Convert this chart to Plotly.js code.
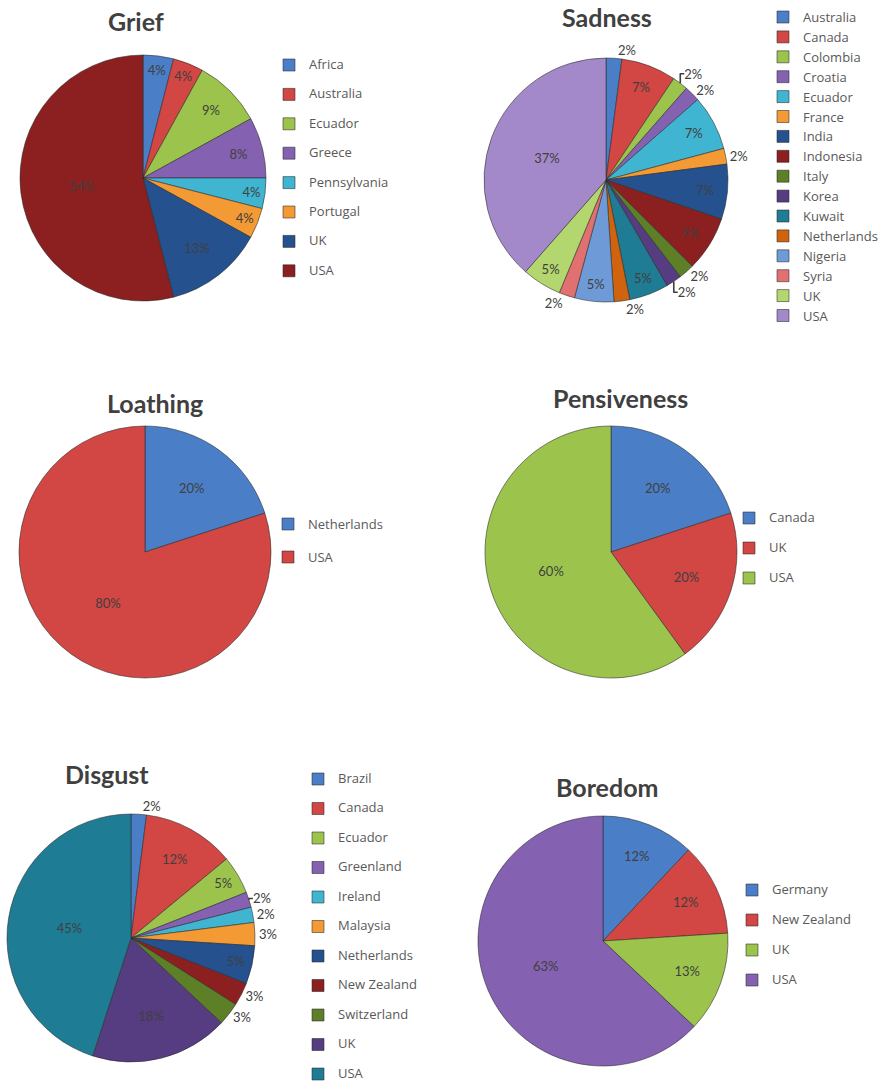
<!DOCTYPE html>
<html>
<head>
<meta charset="utf-8">
<script src="https://cdn.plot.ly/plotly-3.0.1.min.js"></script>
<style>html,body{margin:0;padding:0;background:#ffffff;}#chart{width:889px;height:1085px;}</style>
</head>
<body>
<div id="chart"></div>
<script>
// ---------------- DATA ----------------
const griefCountries = ['Africa','Australia','Ecuador','Greece','Pennsylvania','Portugal','UK','USA'];
const griefValues = [4,4,9,8,4,4,13,54];

const sadnessCountries = ['Australia','Canada','Colombia','Croatia','Ecuador','France','India','Indonesia','Italy','Korea','Kuwait','Netherlands','Nigeria','Syria','UK','USA'];
const sadnessValues = [2,7,2,2,7,2,7,7,2,2,5,2,5,2,5,37];

const loathingCountries = ['Netherlands','USA'];
const loathingValues = [20,80];

const pensivenessCountries = ['Canada','UK','USA'];
const pensivenessValues = [20,20,60];

const disgustCountries = ['Brazil','Canada','Ecuador','Greenland','Ireland','Malaysia','Netherlands','New Zealand','Switzerland','UK','USA'];
const disgustValues = [2,12,5,2,2,3,5,3,3,18,45];

const boredomCountries = ['Germany','New Zealand','UK','USA'];
const boredomValues = [12,12,13,63];

const chartTitles = ['Grief','Sadness','Loathing','Pensiveness','Disgust','Boredom'];

// ---------------- STYLE ----------------
const W = 889, H = 1085;
const palette = ['#4a7ec6','#d24643','#9cc44c','#8561b1','#40b5d2','#f39a34',
                 '#25518f','#8c1f1f','#5d7f27','#563c80','#1f7c95','#cf630e',
                 '#6e9bd8','#e07170','#b3d66f','#a489ca'];

const sadnessPos = ['outside','inside','outside','outside','inside','outside','inside','inside','outside','outside','inside','outside','inside','outside','inside','inside'];
const disgustPos = ['outside','inside','inside','outside','outside','outside','inside','outside','outside','inside','inside'];

// pie geometry in pixels: centre x, centre y, radius
const geo = [
  [143,178,123],
  [606,180,122],
  [145,552,126],
  [611,552,126],
  [131,938,124],
  [603,941,125]
];
function domainOf(g){
  return {x:[(g[0]-g[2])/W,(g[0]+g[2])/W], y:[1-(g[1]+g[2])/H, 1-(g[1]-g[2])/H]};
}

// legend entries: visible text at 13px, a blank second line to space the entries;
// the style string differs per chart so that each legend keeps its own entries
function twoLine(names, k){
  return names.map(n => '<span style="font-size:13px' + ';'.repeat(k) + '">' + n + '</span><br> ');
}

function makePie(labels, values, idx, legendId, pos){
  return {
    type:'pie', labels:labels, values:values, sort:false, direction:'clockwise', rotation:0,
    domain: domainOf(geo[idx]),
    marker:{colors:palette.slice(0,values.length), line:{color:'rgba(40,40,40,0.55)', width:1}},
    texttemplate:'%{value}%', textposition: pos || 'inside', insidetextorientation:'horizontal',
    insidetextfont:{family:'Lato, sans-serif', size:13, color:'#404040'},
    outsidetextfont:{family:'Lato, sans-serif', size:13, color:'#404040'},
    hoverinfo:'label+value', legend:legendId, showlegend:true
  };
}

const traces = [
  makePie(twoLine(griefCountries,1), griefValues, 0, 'legend'),
  makePie(sadnessCountries, sadnessValues, 1, 'legend2', sadnessPos),
  makePie(twoLine(loathingCountries,2), loathingValues, 2, 'legend3'),
  makePie(twoLine(pensivenessCountries,3), pensivenessValues, 3, 'legend4'),
  makePie(twoLine(disgustCountries,4), disgustValues, 4, 'legend5', disgustPos),
  makePie(twoLine(boredomCountries,5), boredomValues, 5, 'legend6')
];

// legend placement: x of text start, y of first entry, spacing between entries
function legendCfg(textX, firstY, spacing, single){
  let f, top;
  if(single){
    f = (spacing-3)/1.3;
    top = firstY - 5 - spacing/2;
  } else {
    f = (spacing-3)/2.6;
    const L = 1.3*f;
    top = firstY - 5 - L/2 - 1.5;
  }
  return {
    x:(textX-40)/W, y:1-top/H, xanchor:'left', yanchor:'top',
    bgcolor:'rgba(0,0,0,0)', borderwidth:0, valign: single ? 'middle' : 'top',
    font:{family:'Open Sans, sans-serif', size:f, color:'#595959'}
  };
}

const titlePos = [[136,21],[607,17],[155,403],[620,398],[107,774],[607,787]];
const annotations = chartTitles.map((t,i)=>({
  text:t, x:titlePos[i][0]/W, y:1-titlePos[i][1]/H, xref:'paper', yref:'paper',
  xanchor:'center', yanchor:'middle', showarrow:false,
  font:{family:'Lato, sans-serif', size:25, color:'#404040', weight:700}
}));

const layout = {
  width:W, height:H, margin:{l:0,r:0,t:0,b:0,autoexpand:false},
  paper_bgcolor:'#ffffff', plot_bgcolor:'#ffffff',
  annotations:annotations,
  legend: legendCfg(309, 65, 29.4),
  legend2: legendCfg(803, 17, 19.9, true),
  legend3: legendCfg(308, 524, 33),
  legend4: legendCfg(769, 518, 30),
  legend5: legendCfg(338, 779, 29.5),
  legend6: legendCfg(772, 890, 30)
};

Plotly.newPlot('chart', traces, layout, {displayModeBar:false, staticPlot:true});
</script>
</body>
</html>
